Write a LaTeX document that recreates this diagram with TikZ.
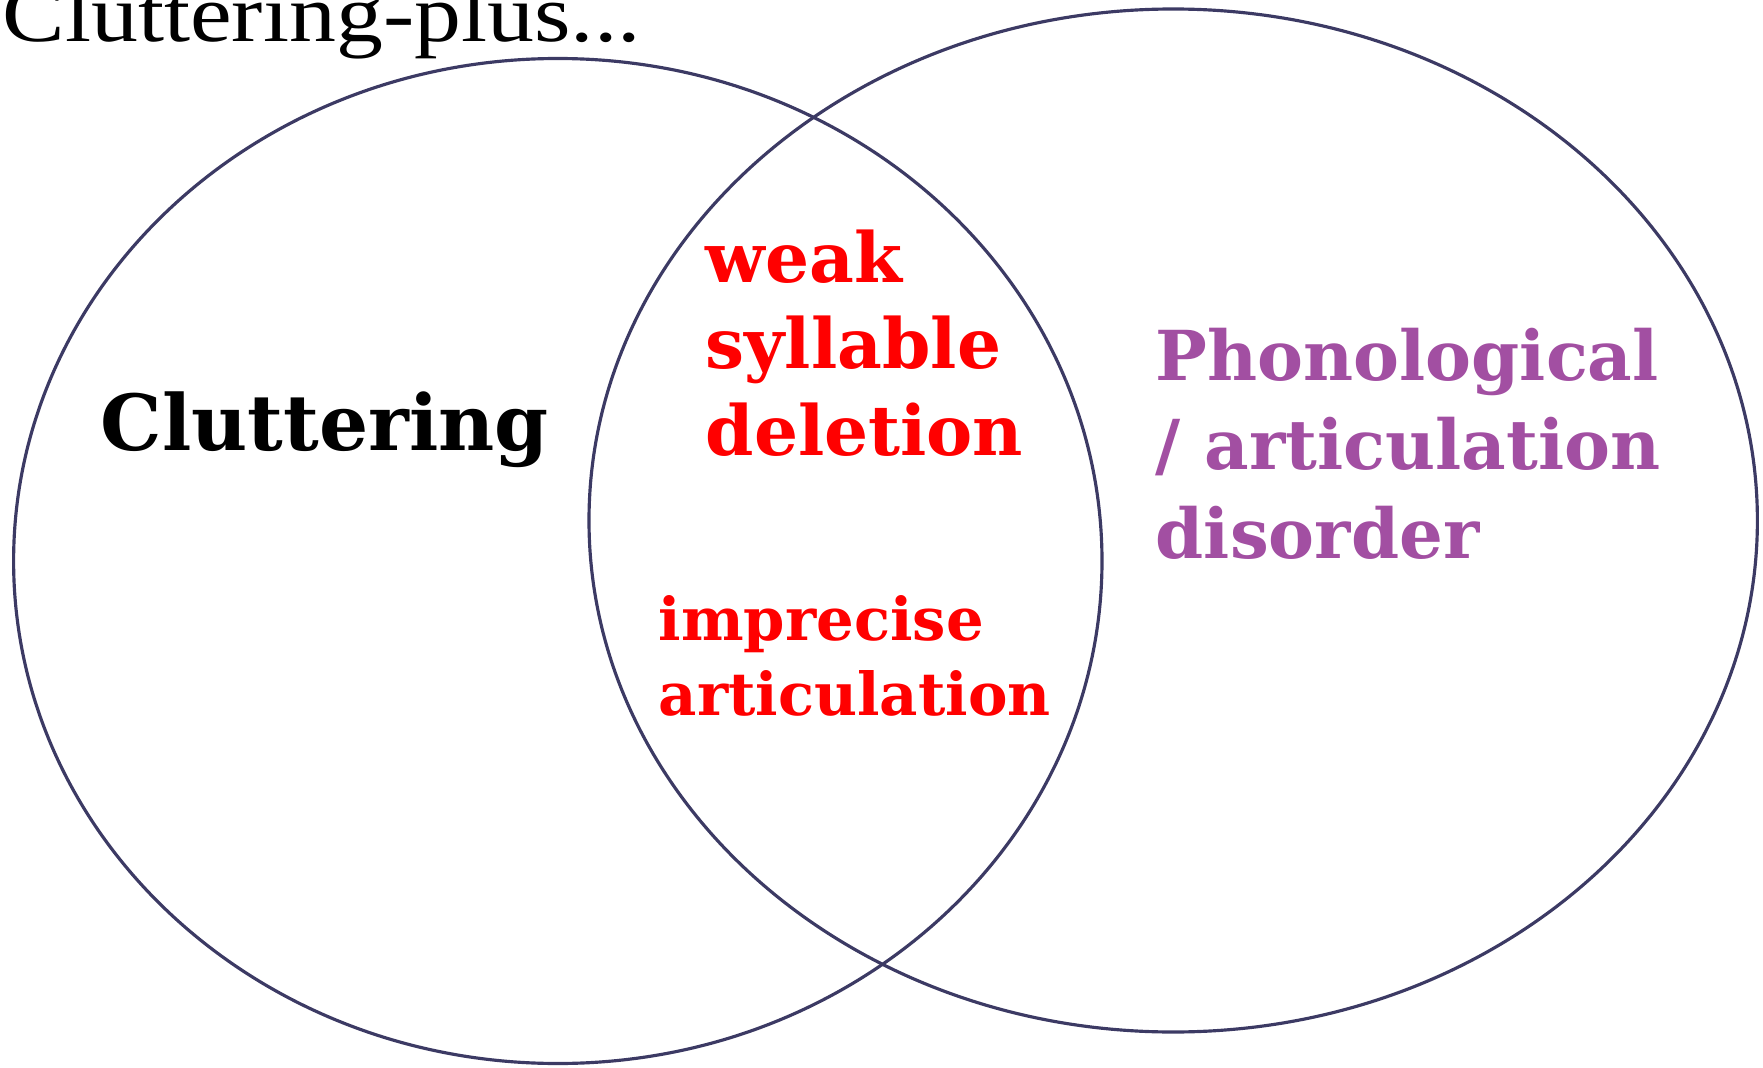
\documentclass[tikz,border=0pt]{standalone}
\usepackage{fontspec}
\setmainfont{Liberation Serif}
\newfontfamily\boldserif{DejaVu Serif}
\newfontfamily\headfont[FakeStretch=1.15]{Liberation Serif}
\usepackage{tikz}

\definecolor{ringblue}{HTML}{3C3A64}
\definecolor{phonopurple}{HTML}{A24FA2}

\begin{document}
\begin{tikzpicture}[
    ring/.style={draw=ringblue, line width=0.9pt},
    setlabel/.style={align=left, anchor=base west, inner sep=0pt}
  ]
      \useasboundingbox (0,0) rectangle (17.63,10.67);

      % Two overlapping sets
      \draw[ring] (5.578, 5.06) ellipse [x radius=5.442, y radius=5.025]; % left set
      \draw[ring] (11.732, 5.465) ellipse [x radius=5.842, y radius=5.115]; % right set

      % Heading, cut at the top edge
      \node[anchor=base west, inner sep=0pt, font=\headfont\fontsize{23.2}{27}\selectfont] (title) at (0.02, 10.25) {Cluttering-plus...};

      % Set names (anchor sits on the last line)
      \node[setlabel, font=\boldserif\bfseries\fontsize{22}{26}\selectfont] (clut) at (1.00, 6.17) {Cluttering};
      \node[setlabel, text=phonopurple, font=\boldserif\bfseries\fontsize{19.6}{25.3}\selectfont] (phono) at (11.55, 5.09) {Phonological\\/ articulation\\disorder};

      % Shared features
      \node[setlabel, text=red, font=\boldserif\bfseries\fontsize{19.7}{24.6}\selectfont] (weak) at (7.05, 6.12) {weak\\syllable\\deletion};
      \node[setlabel, text=red, font=\boldserif\bfseries\fontsize{16.85}{21.3}\selectfont] (imprec) at (6.58, 3.515) {imprecise\\articulation};

  \end{tikzpicture}
\end{document}
